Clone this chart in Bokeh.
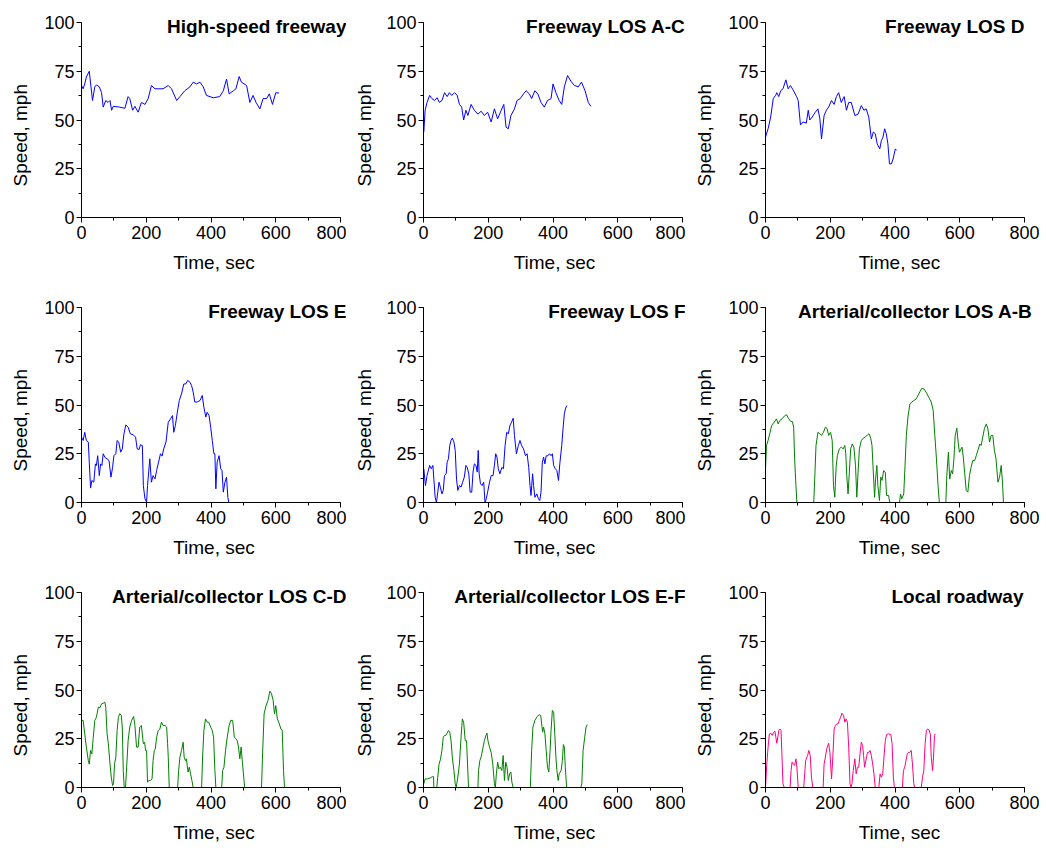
from bokeh.plotting import figure
from bokeh.layouts import column, row
from bokeh.models import Range1d, SingleIntervalTicker, Label, Title
from bokeh.embed import file_html
from bokeh.resources import INLINE

# ---------------- data (time in s, speed in mph) ----------------
titles = ["High-speed freeway", "Freeway LOS A-C", "Freeway LOS D",
          "Freeway LOS E", "Freeway LOS F", "Arterial/collector LOS A-B",
          "Arterial/collector LOS C-D", "Arterial/collector LOS E-F", "Local roadway"]

t1 = [0,5,10,15,24,34,41,46,55,62,67,75,82,88,93,98,118,134,144,149,158,165,175,185,196,206,216,227,252,268,278,294,304,319,335,345,355,366,376,386,407,427,438,448,456,469,477,487,494,510,520,530,539,551,561,572,580,590,600,610]
v1 = [67.7,66,68.5,72,75,60,67,68,67,64,56.6,60,59,60,55,57,56.6,56,62,61,55,57,54,59,58,61,67.7,66,66,67.7,66,60,62,65,67,69.4,68.5,69.4,67,62.6,61.4,62,65,71,63.4,65,66,72.3,69.4,67.7,59,62.6,59,55.7,61,61,63.4,58,64,63.8]

t2 = [1,5,11,19,26,34,42,49,57,65,73,80,87,96,104,111,118,124,131,137,147,157,168,178,188,198,209,219,229,240,248,255,262,270,281,289,299,309,317,327,334,344,353,363,373,383,394,400,409,419,427,435,445,455,466,478,488,499,509,517]
v2 = [43.8,55,59,62.6,61,60,61.4,59,60,64,62,64,62.6,64,62.6,58,56.6,50,55,52.3,58,55,53,54.5,52.3,54,49,55.7,50.6,55,58,46.3,45.5,52.3,55.7,60,61,63.4,65,63.4,61,65,63.4,59,56.6,60,61,68.5,64,60,58,67,72.8,70,67.7,67,69.4,65,59,57]

t3 = [0,8,16,24,31,35,41,47,54,63,70,77,85,96,101,108,116,126,132,137,144,154,162,168,173,181,188,195,204,212,219,226,234,243,250,257,265,276,286,296,304,311,319,327,333,339,345,353,358,363,368,373,378,383,389,394,401,405]
v3 = [41.2,45.5,51.5,61,62.6,64,62,65,66,70.6,66,67.7,65.5,62,60,47.5,49,48.4,55,50,51.5,54,55.7,50.6,40.3,52.3,55,56.6,60,58,62,64,59,62,55,59,59,52.3,53,57.4,55,55.7,51.5,40.3,43.8,43,37.8,35.2,39.5,41.2,45.5,43,37.8,27.5,27.5,30,35.2,34.4]

t4 = [0,5,10,15,21,24,28,32,38,43,46,50,55,59,63,67,73,79,85,91,96,100,106,110,115,121,126,131,137,144,151,160,167,172,178,182,188,191,196,201,204,211,216,221,227,232,238,244,249,254,261,268,275,281,285,290,296,302,309,316,322,328,335,340,345,350,357,366,373,378,384,388,394,399,404,409,412,415,419,425,430,434,438,443,448,452,455]
v4 = [33.5,31.8,36,31.8,31,20.7,7.4,11.3,10.4,19.8,19,24,13.8,19.8,19,25,23,22.4,21.5,13,18,24,25,31.8,31,25.8,27.5,35.2,39.8,38.6,35.2,34.7,33.5,27.5,27.2,29.6,29.2,8.7,1.9,0.2,8.7,22.4,10.4,13.8,12.1,16.4,20.7,25,23.8,27.5,31,41.2,42.9,44.6,36,39.5,46.3,52.3,55.7,60.8,60.8,62.6,61.7,60,56.6,51.5,51.5,52.3,54.9,48.9,43.8,46.3,44.6,38.6,31.8,25,25,7,20.7,24,17.3,16.4,5.3,10.4,13,2.7,0]

t5 = [1,6,11,19,24,29,32,36,40,44,48,52,57,61,65,70,73,77,81,85,89,94,98,102,106,111,116,121,126,131,135,140,144,149,153,157,162,166,169,172,176,181,186,190,194,198,204,209,215,219,223,227,231,236,242,247,252,257,262,267,272,277,281,287,293,298,303,309,315,320,325,329,332,337,340,344,350,355,359,363,367,371,375,379,383,389,394,398,402,407,412,417,421,427,431,435,439,443]
v5 = [17.3,8.7,13.8,19,17.3,19,12,2.7,0,5.3,10.4,7.9,4.4,6.2,13.8,14.7,20.7,22.4,29.2,31.8,33,31,26.7,12,6.2,8.7,7.9,10.4,13,19,18,14.7,5.3,5.3,15.6,19.8,19,15.6,26.7,14.7,9.6,8.7,10.4,0,1.9,5.3,10.4,13.8,13.8,19,25,23.2,17.3,14.7,18,17.3,29.2,36,35.2,39.5,41.2,43.2,34.4,25,29.2,31.8,29.2,27.5,24,25,18,8.7,3.6,14.7,8.7,2.7,4.4,1.9,1,5.3,20.7,23.2,19.8,24,23.8,25,24,25,19,17.3,16.4,11.3,19.8,29.2,37.8,45.5,48.4,49.7]

t6 = [0,3,8,13,19,27,34,39,44,51,60,65,72,78,83,87,90,94,97,149,152,156,162,168,173,179,185,190,195,201,206,210,214,218,222,228,234,240,245,248,251,255,259,263,268,273,278,282,286,290,296,302,308,315,320,325,329,333,337,340,344,347,352,356,360,365,370,374,380,384,414,417,421,427,431,435,440,446,452,458,465,471,477,483,489,496,504,512,518,523,528,533,537,557,560,565,569,574,578,582,586,591,595,599,604,607,611,615,620,625,630,635,640,646,651,656,662,666,670,676,682,687,692,697,702,707,712,718,723,728,732,735]
v6 = [17.3,29.2,31.8,35.2,39.5,41.2,42.9,40.3,42,42.9,44.6,45,42.9,41.5,41.5,38.6,22.4,8.7,0,0,12,29.2,36,35.2,34.4,36,38.6,38,34.4,36,31.8,8.7,2.7,18,24,27.5,28.4,27.5,29.2,25,13.8,4.4,15.6,27.5,30,28.4,19,2.7,15.6,27.5,31.8,33,33.5,34.7,35.2,33,29.2,15.6,2.7,12,19,8.7,1,13,11.3,16.4,15.6,3.6,3.6,0,0,4.4,1.9,4.4,19,34.4,43.8,50.6,51.5,52.3,53,54.9,56.9,58.6,58.3,56.6,54,51.5,47.2,34.4,22.4,8.7,0,0,13.8,25.8,12,16.4,14.7,22.4,34.4,38.1,31,25.8,27.5,28.4,23.2,15.6,6.2,5.3,13.8,18,21.5,21.5,24,26.7,30,29.2,32.6,37.8,40.3,37.8,31,34.4,34.4,26.7,22.4,10.4,13,19,10.4,0]

t7 = [0,5,10,15,21,24,28,32,36,41,46,52,57,62,67,72,75,79,83,88,92,96,99,102,106,110,114,118,123,126,129,132,136,140,144,149,155,161,165,170,175,180,185,191,195,198,201,204,208,213,218,221,225,228,232,237,242,247,252,258,263,266,268,271,297,300,304,309,314,317,321,324,329,333,337,341,345,371,374,378,383,388,393,399,404,408,412,415,433,436,440,445,450,456,461,467,472,477,481,485,489,493,497,502,504,556,559,564,570,576,582,587,592,596,600,605,611,616,620,624,627]
v7 = [34.4,34.4,27.5,20.7,13.8,12,19,17.3,25,34.4,36,41.2,40.9,42.9,43.2,43.8,41.2,27.5,22.4,12,5.3,1,1.9,12,15.6,29.2,36,37.8,37,31,8.7,0,0,12,24,31,34.4,36.4,31.8,20.7,20.7,31,31.8,22.4,23.2,19,19,2.7,3.6,3.6,4.4,13.8,19,19.8,25.8,29.2,30,33.5,31.8,31.8,31,22.4,15.6,0,0,8.7,15.6,19,23.2,15.6,13.8,14.7,7.9,10.4,7,3.6,0,0,15.6,29.2,35.2,33.5,33.5,31,29.2,25.8,8.7,0,0,8.7,10.4,19,25.8,31.8,34.4,34.4,25.8,25,24,20.7,14.7,20.7,13,3.6,0,0,15.6,37.8,42,44.6,49.4,48,44.6,37.8,42,35.2,32.6,30,29.2,8.7,0]

t8 = [1,5,13,22,28,31,32,41,44,48,52,57,61,65,69,73,77,81,85,89,94,98,101,106,111,116,120,124,129,133,136,139,168,170,174,178,183,188,193,196,199,204,209,214,219,222,225,229,233,237,242,246,250,254,258,262,266,270,273,277,330,334,338,344,351,357,362,365,368,371,375,379,383,387,391,394,398,402,406,409,412,416,419,425,429,432,435,438,442,486,489,493,498,502,506]
v8 = [1.9,4.4,4.4,5,5.6,5.6,0,0,5.3,12,14.2,19,25.8,26.7,26.7,27.9,29.2,28.4,24,15.6,8.7,1.9,0,5.3,12,25.8,35.2,33.5,24,24,12,0,0,8.7,13.8,15.6,19.8,24,26.7,27.9,24,20.7,18,12,1.9,0,7,13,9.6,10.4,8.7,16.4,3.6,13,10.4,3.6,7,7.9,2.7,0,0,19,31,34.4,36.4,37.3,37,32.6,28.4,31,27.5,19,10.4,7.9,19,29.2,39.5,38.6,25.8,15.6,8.7,3.6,7,8.7,13.8,22,20.7,10.4,0,0,1.9,19,25.8,31,32.3]

t9 = [0,4,8,12,16,21,25,29,32,35,38,41,45,48,51,54,58,76,79,82,86,90,94,97,101,118,121,124,130,134,138,142,146,178,181,185,189,195,199,204,208,212,216,220,224,228,232,236,241,245,249,253,257,261,264,267,271,276,280,284,288,292,296,300,303,306,310,315,319,323,327,331,335,339,350,354,358,362,366,370,374,380,387,391,395,398,423,426,430,434,438,442,446,450,454,458,461,481,485,489,493,497,501,505,509,512,516,519,522,524]
v9 = [0,12,20.7,27.5,27.9,26.7,28.4,28.9,25.8,22.7,25.8,29.2,30,29.2,15.6,1.9,0,0,8.7,13,12,11.3,14.7,10.4,0,0,7,13.8,16.4,19,16.4,5.3,0,0,12,15.6,19.8,22.7,18,4.4,15.6,30,31.8,32.6,32.6,34.4,36,38.1,37,33.5,35.2,33.5,20.7,1.9,0,1.9,8.7,14.7,7,10.4,10.4,17.3,23.2,21.5,16.4,10.4,13.8,18,18,19,16.4,12,7,0,0,7,5.3,7,15.6,24,27.2,27.5,27.2,22.4,5.3,0,0,8.7,10.4,13.8,17.3,18,18,19,12,1.9,0,0,5.3,8.7,22.4,29.2,30,29.5,27.5,15.6,8.7,15.6,26.7,27.5]

x_max, y_max = 800, 100
x_ticks_interval = 200
y_ticks_interval = 25
x_label = "Time, sec"
y_label = "Speed, mph"

# ---------------- styling ----------------
BLUE, GREEN, PINK = "#0000FF", "#008000", "#FF0080"
colors = [BLUE]*5 + [GREEN]*3 + [PINK]
series = [(t1, v1), (t2, v2), (t3, v3), (t4, v4), (t5, v5), (t6, v6), (t7, v7), (t8, v8), (t9, v9)]
title_dx = [6, 3, 0, 6, 3, 8, 6, 3, -1]
FONT = "Liberation Sans"
FW, FH = 259, 195          # axis extent in pixels
xpads = [6, 3, 9]          # extra frame room on the right for the in-plot titles
YPAD = 6                   # extra frame room on top
left_borders = [81, 76, 80]
right_borders = [0, 0, 6]
top_borders = [16, 8, 8]
bottom_borders = [76, 76, 60]
ylabel_standoffs = [18, 14, 17]


def make_panel(i):
    t, v = series[i]
    r, c = divmod(i, 3)
    xp = xpads[c]
    p = figure(frame_width=FW + xp, frame_height=FH + YPAD,
               x_range=Range1d(0, x_max * (FW + xp) / FW),
               y_range=Range1d(0, y_max * (FH + YPAD) / FH),
               output_backend="svg", toolbar_location=None, tools="",
               min_border_left=left_borders[c], min_border_right=right_borders[c],
               min_border_top=top_borders[r], min_border_bottom=bottom_borders[r])
    p.outline_line_color = None
    p.grid.visible = False
    p.background_fill_color = "white"
    p.border_fill_color = "white"

    p.line(t, v, line_color=colors[i], line_width=1)

    p.xaxis.ticker = SingleIntervalTicker(interval=x_ticks_interval, num_minor_ticks=2)
    p.yaxis.ticker = SingleIntervalTicker(interval=y_ticks_interval, num_minor_ticks=2)
    p.xaxis.bounds = (0, x_max)
    p.yaxis.bounds = (0, y_max)
    for ax in (p.xaxis[0], p.yaxis[0]):
        ax.axis_line_color = "black"
        ax.axis_line_width = 1
        ax.major_tick_line_color = "black"
        ax.minor_tick_line_color = "black"
        ax.major_tick_out = 5
        ax.major_tick_in = 0
        ax.minor_tick_out = 3
        ax.minor_tick_in = 0
        ax.major_label_text_font = FONT
        ax.major_label_text_font_size = "18px"
        ax.major_label_text_color = "black"
        ax.axis_label_text_font = FONT
        ax.axis_label_text_font_size = "19px"
        ax.axis_label_text_font_style = "normal"
        ax.axis_label_text_color = "black"
    p.xaxis.major_label_standoff = 3
    p.yaxis.major_label_standoff = 2
    p.xaxis.axis_label = x_label
    p.xaxis.axis_label_standoff = 10

    p.add_layout(Title(text=y_label, align="left", offset=31, vertical_align="top",
                       standoff=ylabel_standoffs[c], text_font=FONT, text_font_size="19px",
                       text_font_style="normal", text_color="black"), "left")

    p.add_layout(Label(x=x_max, y=y_max, x_offset=title_dx[i], y_offset=-4,
                       text=titles[i], text_align="right", text_baseline="alphabetic",
                       text_font=FONT, text_font_size="19px", text_font_style="bold",
                       text_color="black"))
    return p


panels = [make_panel(i) for i in range(9)]
layout = column(row(*panels[0:3]), row(*panels[3:6]), row(*panels[6:9]))

open("out.html", "w").write(file_html(layout, INLINE))
